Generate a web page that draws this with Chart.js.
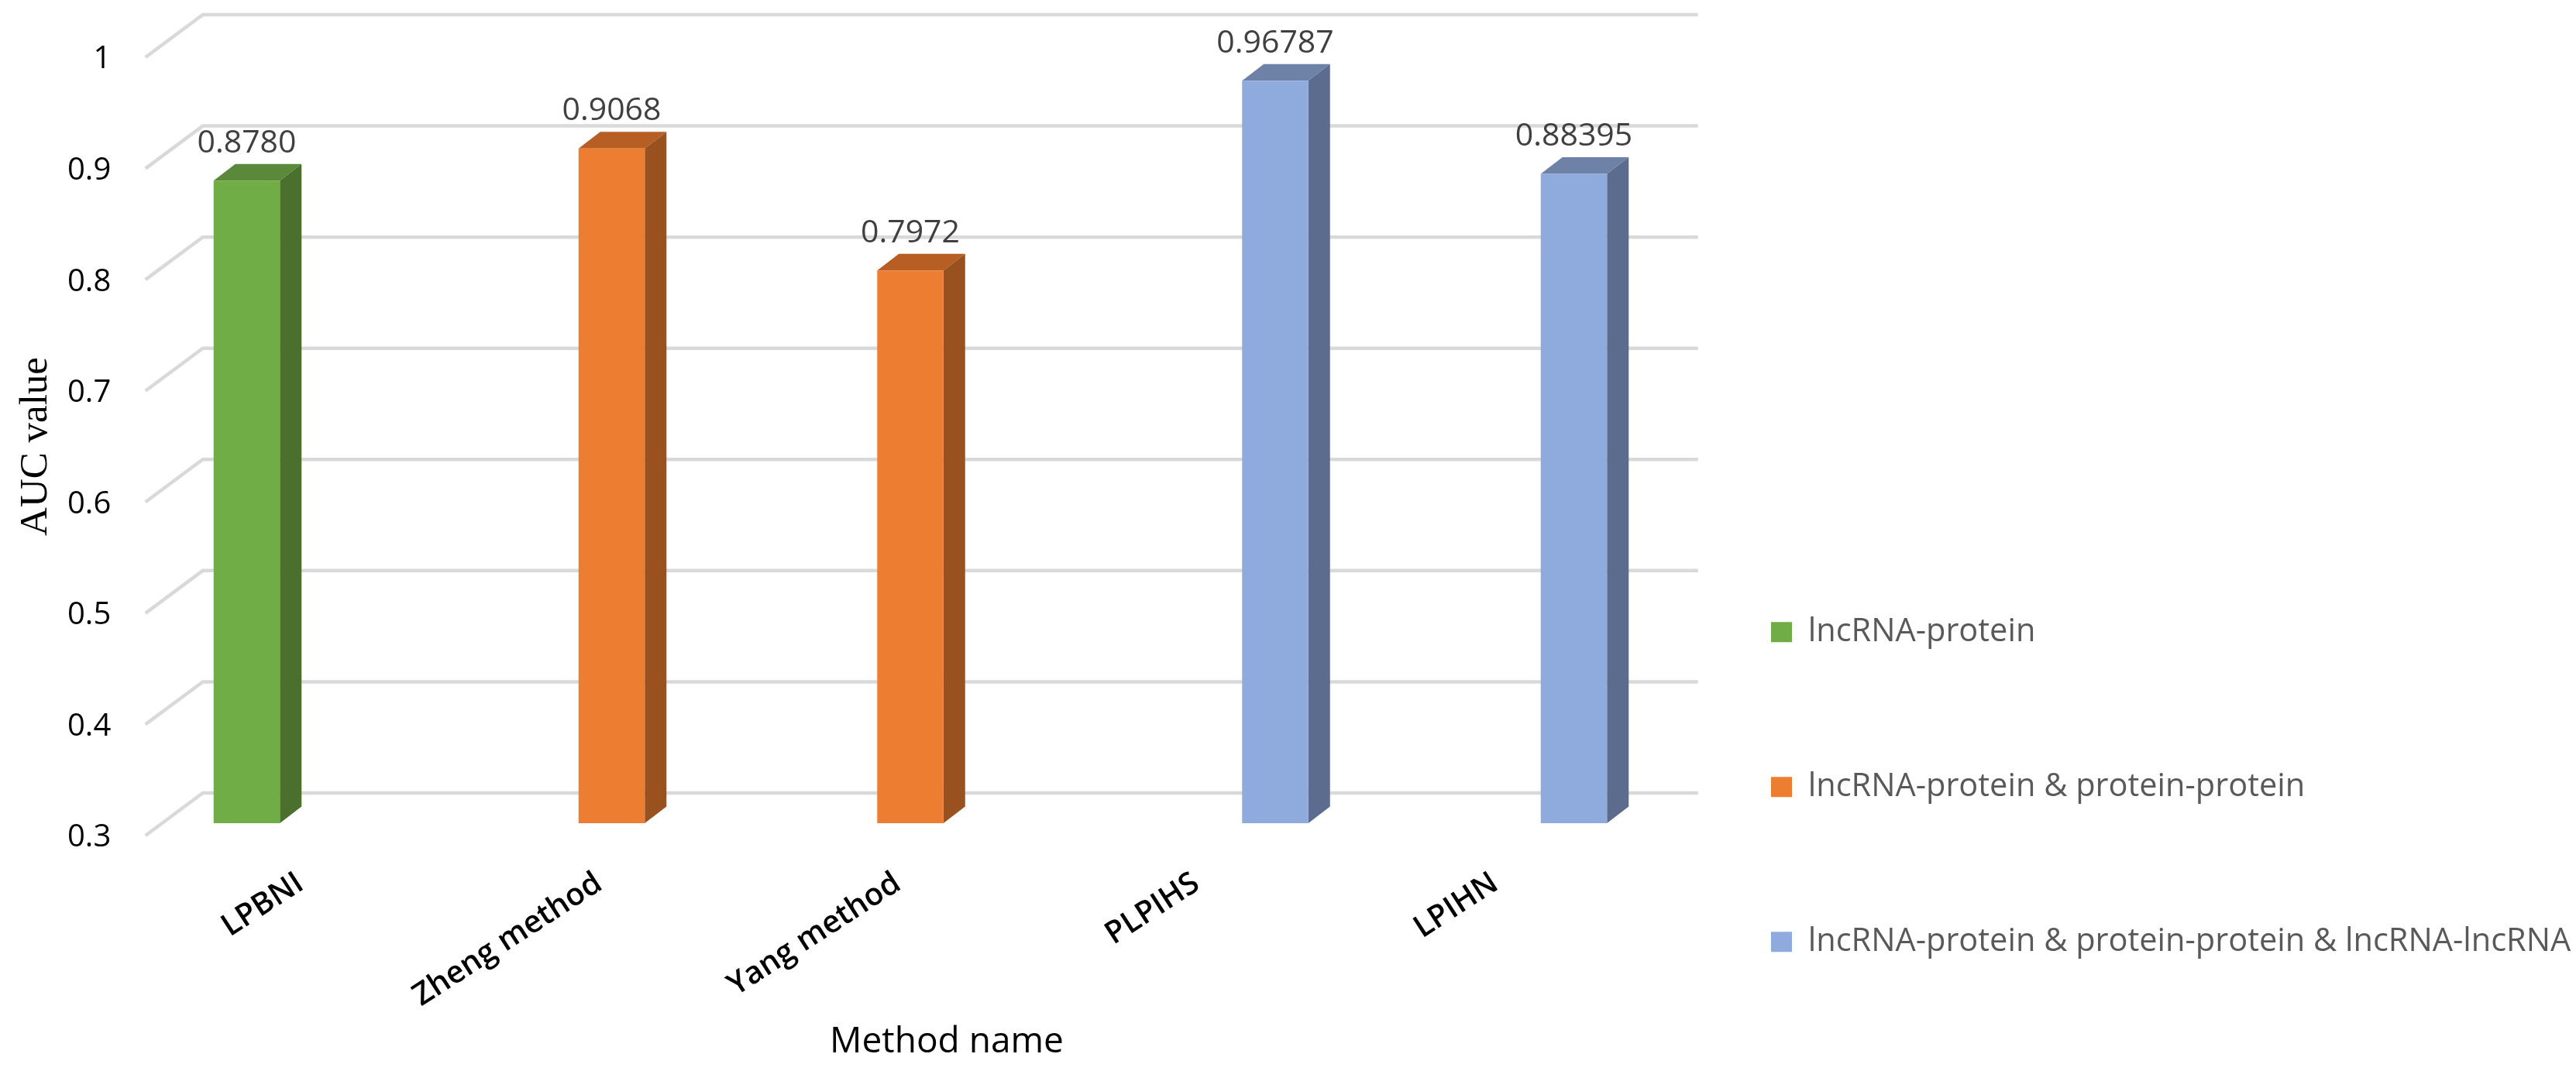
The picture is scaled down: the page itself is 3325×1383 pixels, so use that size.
<!DOCTYPE html>
<html>
<head>
<meta charset="utf-8">
<title>AUC value by method</title>
<script src="https://cdn.jsdelivr.net/npm/chart.js@4"></script>
<style>
  html, body { margin: 0; padding: 0; background: #fff; }
  #chart { display: block; }
</style>
</head>
<body>
<canvas id="chart" width="3325" height="1383"></canvas>
<script>
  /* ── Data ─────────────────────────────────────────────────────────────── */
  const methods = ['LPBNI', 'Zheng method', 'Yang method', 'PLPIHS', 'LPIHN'];
  const seriesNames = [
    'lncRNA-protein',
    'lncRNA-protein & protein-protein',
    'lncRNA-protein & protein-protein & lncRNA-lncRNA',
  ];
  const pairOnly   = [0.8780, null, null, null, null];
  const pairPlus   = [null, 0.9068, 0.7972, null, null];
  const allThree   = [null, null, null, 0.96787, 0.88395];
  const pairLabels = ['0.8780', null, null, null, null];
  const plusLabels = [null, '0.9068', '0.7972', null, null];
  const allLabels  = [null, null, null, '0.96787', '0.88395'];
  const yTicks = ['0.3', '0.4', '0.5', '0.6', '0.7', '0.8', '0.9', '1'];
  const xTitle = 'Method name';
  const yTitle = 'AUC value';

  /* ── Fake 3D depth, in pixels ─────────────────────────────────────────── */
  const FONT = '"Open Sans"';
  const PLOT = { top: 74, bottom: 1079 };
  const WALL = { dx: 74, dy: 55, frontInset: 23.5, endPad: 53 };
  const BAR  = { lift: 16, dx: 28, dy: 21.5 };
  const FACES = [
    { front: '#70AD47', top: '#5A8A39', side: '#4B702E' },
    { front: '#ED7D31', top: '#B65E24', side: '#9A5120' },
    { front: '#8FAADC', top: '#6E82A8', side: '#5C6C8E' },
  ];
  const VALUE_TEXT = [pairLabels, plusLabels, allLabels];

  /* ── Wall lines behind the bars ───────────────────────────────────────── */
  const wallGrid = {
    id: 'wallGrid',
    beforeDatasetsDraw(chart) {
      const { ctx, chartArea, scales } = chart;
      const frontX = chartArea.left - WALL.frontInset;
      const backX  = frontX + WALL.dx;
      const endX   = chartArea.right + WALL.endPad;
      ctx.save();
      ctx.strokeStyle = '#D9D9D9';
      ctx.lineWidth = 4.5;
      scales.y.ticks.forEach(t => {
        const y = scales.y.getPixelForValue(t.value);
        ctx.beginPath();
        ctx.moveTo(frontX, y);
        ctx.lineTo(backX, y - WALL.dy);
        ctx.lineTo(endX, y - WALL.dy);
        ctx.stroke();
      });
      ctx.restore();
    },
  };

  /* ── Bar side + top faces, and value labels ───────────────────────────── */
  function face(ctx, color, pts) {
    ctx.fillStyle = color;
    ctx.beginPath();
    pts.forEach(([x, y], i) => (i ? ctx.lineTo(x, y) : ctx.moveTo(x, y)));
    ctx.closePath();
    ctx.fill();
  }

  const barDepth = {
    id: 'barDepth',
    beforeDatasetDraw(chart, args) {
      const { ctx } = chart;
      ctx.save();
      ctx.translate(0, -BAR.lift);
      const colors = FACES[args.index];
      args.meta.data.forEach((bar, i) => {
        if (chart.data.datasets[args.index].data[i] == null) return;
        const { x, y, base, width } = bar.getProps(['x', 'y', 'base', 'width'], true);
        const l = x - width / 2, r = x + width / 2;
        face(ctx, colors.top, [[l, y], [l + BAR.dx, y - BAR.dy], [r + BAR.dx, y - BAR.dy], [r, y]]);
        face(ctx, colors.side, [[r, y], [r + BAR.dx, y - BAR.dy], [r + BAR.dx, base - BAR.dy], [r, base]]);
      });
    },
    afterDatasetDraw(chart, args) {
      const { ctx } = chart;
      ctx.restore();
      ctx.save();
      ctx.fillStyle = '#404040';
      ctx.font = `41px ${FONT}`;
      ctx.textAlign = 'center';
      ctx.textBaseline = 'middle';
      args.meta.data.forEach((bar, i) => {
        const text = VALUE_TEXT[args.index][i];
        if (text == null) return;
        const { x, y } = bar.getProps(['x', 'y'], true);
        ctx.fillText(text, x, y - BAR.lift - 48);
      });
      ctx.restore();
    },
  };

  /* ── Pin the y axis, and put the legend far right of the plot ─────────── */
  const pinLayout = {
    id: 'pinLayout',
    afterLayout(chart) {
      const y = chart.scales.y;
      y.top = PLOT.top;
      y.bottom = PLOT.bottom;
      y.height = PLOT.bottom - PLOT.top;
      y.configure();

      const legend = chart.legend;
      const pad = legend.options.labels.padding;
      legend.left = 2286 - pad;
      legend.right = 3325;
      legend.width = legend.right - legend.left;
      legend.top = 795.5 - pad;
      legend.bottom = 1600; // past the canvas, or the last item wraps to a new column
      legend.height = legend.bottom - legend.top;
    },
  };

  /* ── Axis title for x is off centre in the original ───────────────────── */
  const xAxisTitle = {
    id: 'xAxisTitle',
    afterDraw(chart) {
      const { ctx } = chart;
      ctx.save();
      ctx.fillStyle = '#000';
      ctx.font = `46px ${FONT}`;
      ctx.textAlign = 'center';
      ctx.textBaseline = 'alphabetic';
      ctx.fillText(xTitle, 1222, 1359);
      ctx.restore();
    },
  };

  const chart = new Chart(document.getElementById('chart'), {
    type: 'bar',
    data: {
      labels: methods,
      datasets: [pairOnly, pairPlus, allThree].map((data, i) => ({
        label: seriesNames[i],
        data,
        base: 0.3,
        clip: false,
        backgroundColor: FACES[i].front,
        categoryPercentage: 0.6654,
        barPercentage: 1,
      })),
    },
    plugins: [wallGrid, barDepth, pinLayout, xAxisTitle],
    options: {
      responsive: false,
      animation: false,
      layout: {
        autoPadding: false,
        padding: { top: 56, right: 1086.25, bottom: 0, left: 0 },
      },
      plugins: {
        tooltip: { enabled: false },
        legend: {
          position: 'right',
          align: 'start',
          maxWidth: 100,
          labels: {
            boxWidth: 27,
            boxHeight: 26,
            padding: 158.5,
            color: '#595959',
            font: { family: FONT, size: 41.5 },
          },
        },
      },
      scales: {
        x: {
          grid: { display: false },
          border: { display: false },
          afterFit: s => { s.height = 304; },
          ticks: {
            color: '#000',
            font: { family: FONT, size: 40, weight: '600' },
            minRotation: 33,
            maxRotation: 33,
            padding: 30,
            labelOffset: -16,
            autoSkip: false,
          },
        },
        y: {
          min: 0.3,
          max: 1,
          grid: { display: false },
          border: { display: false },
          afterFit: s => { s.width = 211.25; },
          ticks: {
            stepSize: 0.1,
            color: '#000',
            padding: 60,
            labelOffset: 3,
            font: { family: FONT, size: 40 },
            callback: (v, i) => yTicks[i],
          },
          title: {
            display: true,
            text: yTitle,
            color: '#000',
            padding: { top: 16, bottom: 0 },
            font: { family: '"Liberation Serif"', size: 51 },
          },
        },
      },
    },
  });
</script>
</body>
</html>
